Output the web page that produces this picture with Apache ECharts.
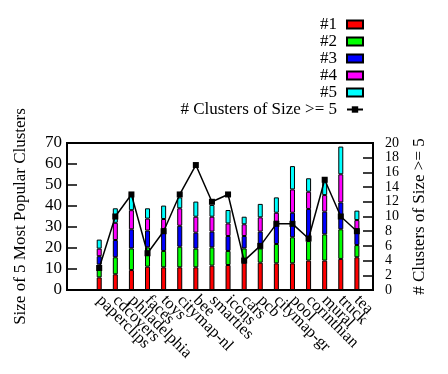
<!DOCTYPE html>
<html>
<head>
<meta charset="utf-8">
<script src="https://cdn.jsdelivr.net/npm/echarts@6/dist/echarts.min.js"></script>
<style>
html,body{margin:0;padding:0;background:#fff;}
#chart{width:448px;height:374px;}
</style>
</head>
<body>
<div id="chart"></div>
<script>
var categories = ['paperclips','cdcovers','philadelphia','faces','toys','citymap-nl','bee','smarties','icons','cars','pcb','citymap-gr','pool','corinthian','mural','truck','tea'];
var cluster1 = [6.0, 7.5, 9.5, 11.1, 10.8, 10.8, 10.8, 11.6, 11.9, 13.0, 13.0, 12.7, 12.7, 14.0, 14.0, 14.8, 15.6];
var cluster2 = [6.1, 8.1, 10.3, 9.2, 7.8, 9.8, 8.9, 8.7, 6.7, 6.8, 6.8, 9.2, 12.4, 9.3, 12.5, 14.1, 5.8];
var cluster3 = [4.0, 8.2, 9.1, 8.0, 10.3, 10.0, 7.6, 7.5, 7.1, 5.9, 8.0, 10.6, 11.7, 15.3, 10.8, 12.8, 7.5];
var cluster4 = [3.6, 8.2, 9.1, 5.7, 4.9, 8.3, 7.6, 7.1, 6.0, 5.6, 6.8, 4.3, 11.1, 8.2, 7.9, 13.4, 4.4];
var cluster5 = [4.3, 6.9, 8.5, 4.9, 6.4, 5.2, 7.2, 5.6, 6.4, 3.6, 6.4, 7.3, 11.1, 6.4, 8.5, 13.2, 4.5];
var clustersGE5 = [3, 10, 13, 5, 8, 13, 17, 12, 13, 4, 6, 9, 9, 7, 15, 10, 8];
var leftTicks = {min: 0, max: 70, interval: 10};
var rightTicks = {min: 0, max: 20, interval: 2};
var seriesNames = ['#1', '#2', '#3', '#4', '#5'];
var lineName = '# Clusters of Size >= 5';
var colors = ['#ff0000', '#00ff00', '#0000ff', '#ff00ff', '#00ffff'];

var FONT = '"Liberation Serif", "Times New Roman", serif';
var FS = 17;
// x range runs from two empty slots before the first bar to one after the last
var PAD_BEFORE = 2, PAD_AFTER = 1;
function pad(arr, fill) {
  var out = [];
  for (var i = 0; i < PAD_BEFORE; i++) out.push(fill);
  out = out.concat(arr);
  for (var j = 0; j < PAD_AFTER; j++) out.push(fill);
  return out;
}
var xCats = pad(categories, '');
xCats = xCats.map(function (c, i) { return c === '' ? ' '.repeat(i + 1) : c; });

var barData = [cluster1, cluster2, cluster3, cluster4, cluster5];
var series = barData.map(function (arr, k) {
  return {
    name: seriesNames[k],
    type: 'bar',
    stack: 'clusters',
    barWidth: 5,
    data: pad(arr, '-'),
    itemStyle: {color: colors[k], borderColor: '#000', borderWidth: 1},
    emphasis: {disabled: true}
  };
});
series.push({
  name: lineName,
  type: 'line',
  yAxisIndex: 1,
  data: pad(clustersGE5, '-'),
  symbol: 'rect',
  symbolSize: 6,
  lineStyle: {color: '#000', width: 1.5},
  itemStyle: {color: '#000'},
  z: 5
});

var chart = echarts.init(document.getElementById('chart'), null, {renderer: 'canvas'});
chart.setOption({
  animation: false,
  backgroundColor: '#fff',
  textStyle: {fontFamily: FONT, color: '#000'},
  legend: {
    orient: 'vertical',
    align: 'right',
    right: 79,
    top: 11,
    itemWidth: 16,
    itemHeight: 8,
    itemGap: 0,
    data: seriesNames.map(function (n) { return {name: n, icon: 'rect'}; }).concat([{name: lineName}]),
    textStyle: {fontFamily: FONT, fontSize: FS, color: '#000', padding: [0, 5, 0, 0]}
  },
  grid: {
    left: 67, right: 75, top: 143, bottom: 84,
    show: true, borderColor: '#000', borderWidth: 2, backgroundColor: 'transparent'
  },
  xAxis: {
    type: 'category',
    data: xCats,
    boundaryGap: false,
    splitLine: {show: false},
    axisLine: {show: false},
    axisTick: {show: false},
    axisLabel: {
      interval: 0,
      rotate: -45,
      margin: 8,
      fontFamily: FONT, fontSize: 16.5, color: '#000'
    }
  },
  yAxis: [{
    type: 'value',
    min: leftTicks.min, max: leftTicks.max, interval: leftTicks.interval,
    name: 'Size of 5 Most Popular Clusters',
    nameLocation: 'middle',
    nameRotate: 90,
    nameGap: 38,
    nameTextStyle: {fontFamily: FONT, fontSize: FS, color: '#000'},
    splitLine: {show: false},
    axisLine: {show: true, onZero: false, lineStyle: {color: '#000', width: 2}},
    axisTick: {show: true, inside: true, length: 10, lineStyle: {color: '#000', width: 1.5}},
    axisLabel: {margin: 5, showMinLabel: true, showMaxLabel: true, fontFamily: FONT, fontSize: FS, color: '#000'}
  }, {
    type: 'value',
    position: 'right',
    min: rightTicks.min, max: rightTicks.max, interval: rightTicks.interval,
    name: lineName,
    nameLocation: 'middle',
    nameRotate: 90,
    nameGap: 38,
    nameTextStyle: {fontFamily: FONT, fontSize: FS, color: '#000'},
    splitLine: {show: false},
    axisLine: {show: true, onZero: false, lineStyle: {color: '#000', width: 2}},
    axisTick: {show: true, inside: true, length: 10, lineStyle: {color: '#000', width: 1.5}},
    axisLabel: {margin: 12, fontFamily: FONT, fontSize: 14, color: '#000', lineHeight: 12}
  }],
  series: series
});
</script>
</body>
</html>
